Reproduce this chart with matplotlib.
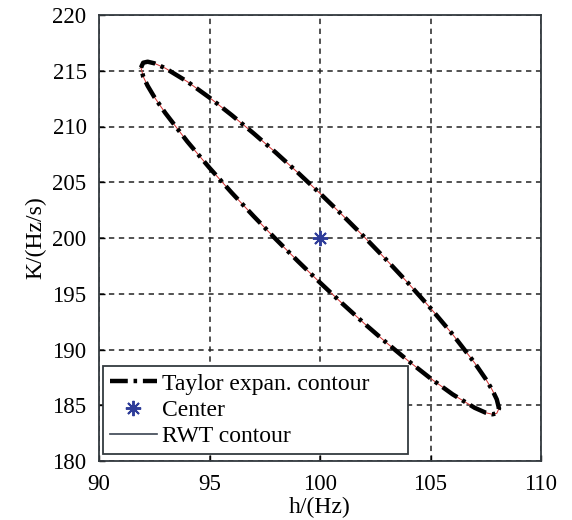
import numpy as np
import matplotlib
matplotlib.use('Agg')
import matplotlib.pyplot as plt
from matplotlib.lines import Line2D

plt.rc('font', family='Liberation Serif', size=17)

# contour points (upper branch left->right, lower branch right->left)
h_upper = [91.9, 92.0, 92.2, 92.5, 93, 94, 95, 96, 97, 98, 99, 100,
           101, 102, 103, 104, 105, 106, 107, 107.5, 107.8, 108.0, 108.1]
k_upper = [215.29, 215.72, 215.81, 215.67, 215.23, 214.02, 212.59, 211.03, 209.38, 207.66, 205.86, 204.00,
           202.08, 200.10, 198.05, 195.93, 193.71, 191.36, 188.79, 187.35, 186.35, 185.52, 184.71]
h_lower = [108.0, 107.8, 107.5, 107, 106, 105, 104, 103, 102, 101, 100,
           99, 98, 97, 96, 95, 94, 93, 92.5, 92.2, 92.0, 91.9]
k_lower = [184.28, 184.19, 184.33, 184.77, 185.98, 187.41, 188.97, 190.62, 192.34, 194.14, 196.00,
           197.92, 199.90, 201.95, 204.07, 206.29, 208.64, 211.21, 212.65, 213.65, 214.48, 215.29]

h_contour = np.array(h_upper + h_lower)
k_contour = np.array(k_upper + k_lower)

h_center = [100]
k_center = [200]

xticks = [90, 95, 100, 105, 110]
yticks = [180, 185, 190, 195, 200, 205, 210, 215, 220]

fig = plt.figure(figsize=(5.72, 5.2), dpi=100)
ax = fig.add_axes([99/572, 1 - 461/520, (541 - 99)/572, (461 - 15)/520])

ax.plot(h_contour, k_contour, color='#d03030', lw=0.7, zorder=2)
ax.plot(h_contour, k_contour, color='black', lw=3.2,
        dashes=(4, 1.3, 0.8, 1.3), zorder=3)
ax.plot(h_center, k_center, linestyle='none', marker=(8, 2, 0),
        color='#2f3d99', ms=11, mew=1.4, zorder=4)

ax.set_xlim(90, 110)
ax.set_ylim(180, 220)
ax.set_xticks(xticks)
ax.set_yticks(yticks)
ax.grid(True, color='#222222', ls=(0, (3.5, 3)), lw=1.1)
ax.tick_params(direction='in', length=4, width=1, pad=9, labelsize=16.5)
for sp in ax.spines.values():
    sp.set_linewidth(1.3)
    sp.set_color('#333a3f')

ax.set_xlabel('h/(Hz)', labelpad=2)
ax.set_ylabel('K/(Hz/s)', labelpad=4)

handles = [
    Line2D([], [], color='black', lw=3.2, dashes=(4, 1.3, 0.8, 1.3)),
    Line2D([], [], ls='none', marker=(8, 2, 0), color='#2f3d99', ms=11, mew=1.4),
    Line2D([], [], color='#3a4350', lw=1.2),
]
labels = ['Taylor expan. contour', 'Center', 'RWT contour']
leg = ax.legend(handles, labels, loc='lower left',
                bbox_to_anchor=(0.008, 0.015, 0.69, 0.2), mode='expand',
                fancybox=False, framealpha=1, edgecolor='#333a3f',
                handlelength=2.0, handletextpad=0.2, labelspacing=0.2,
                borderpad=0.3, borderaxespad=0)
leg.get_frame().set_linewidth(1.3)

fig.savefig('out.png', dpi=100)
